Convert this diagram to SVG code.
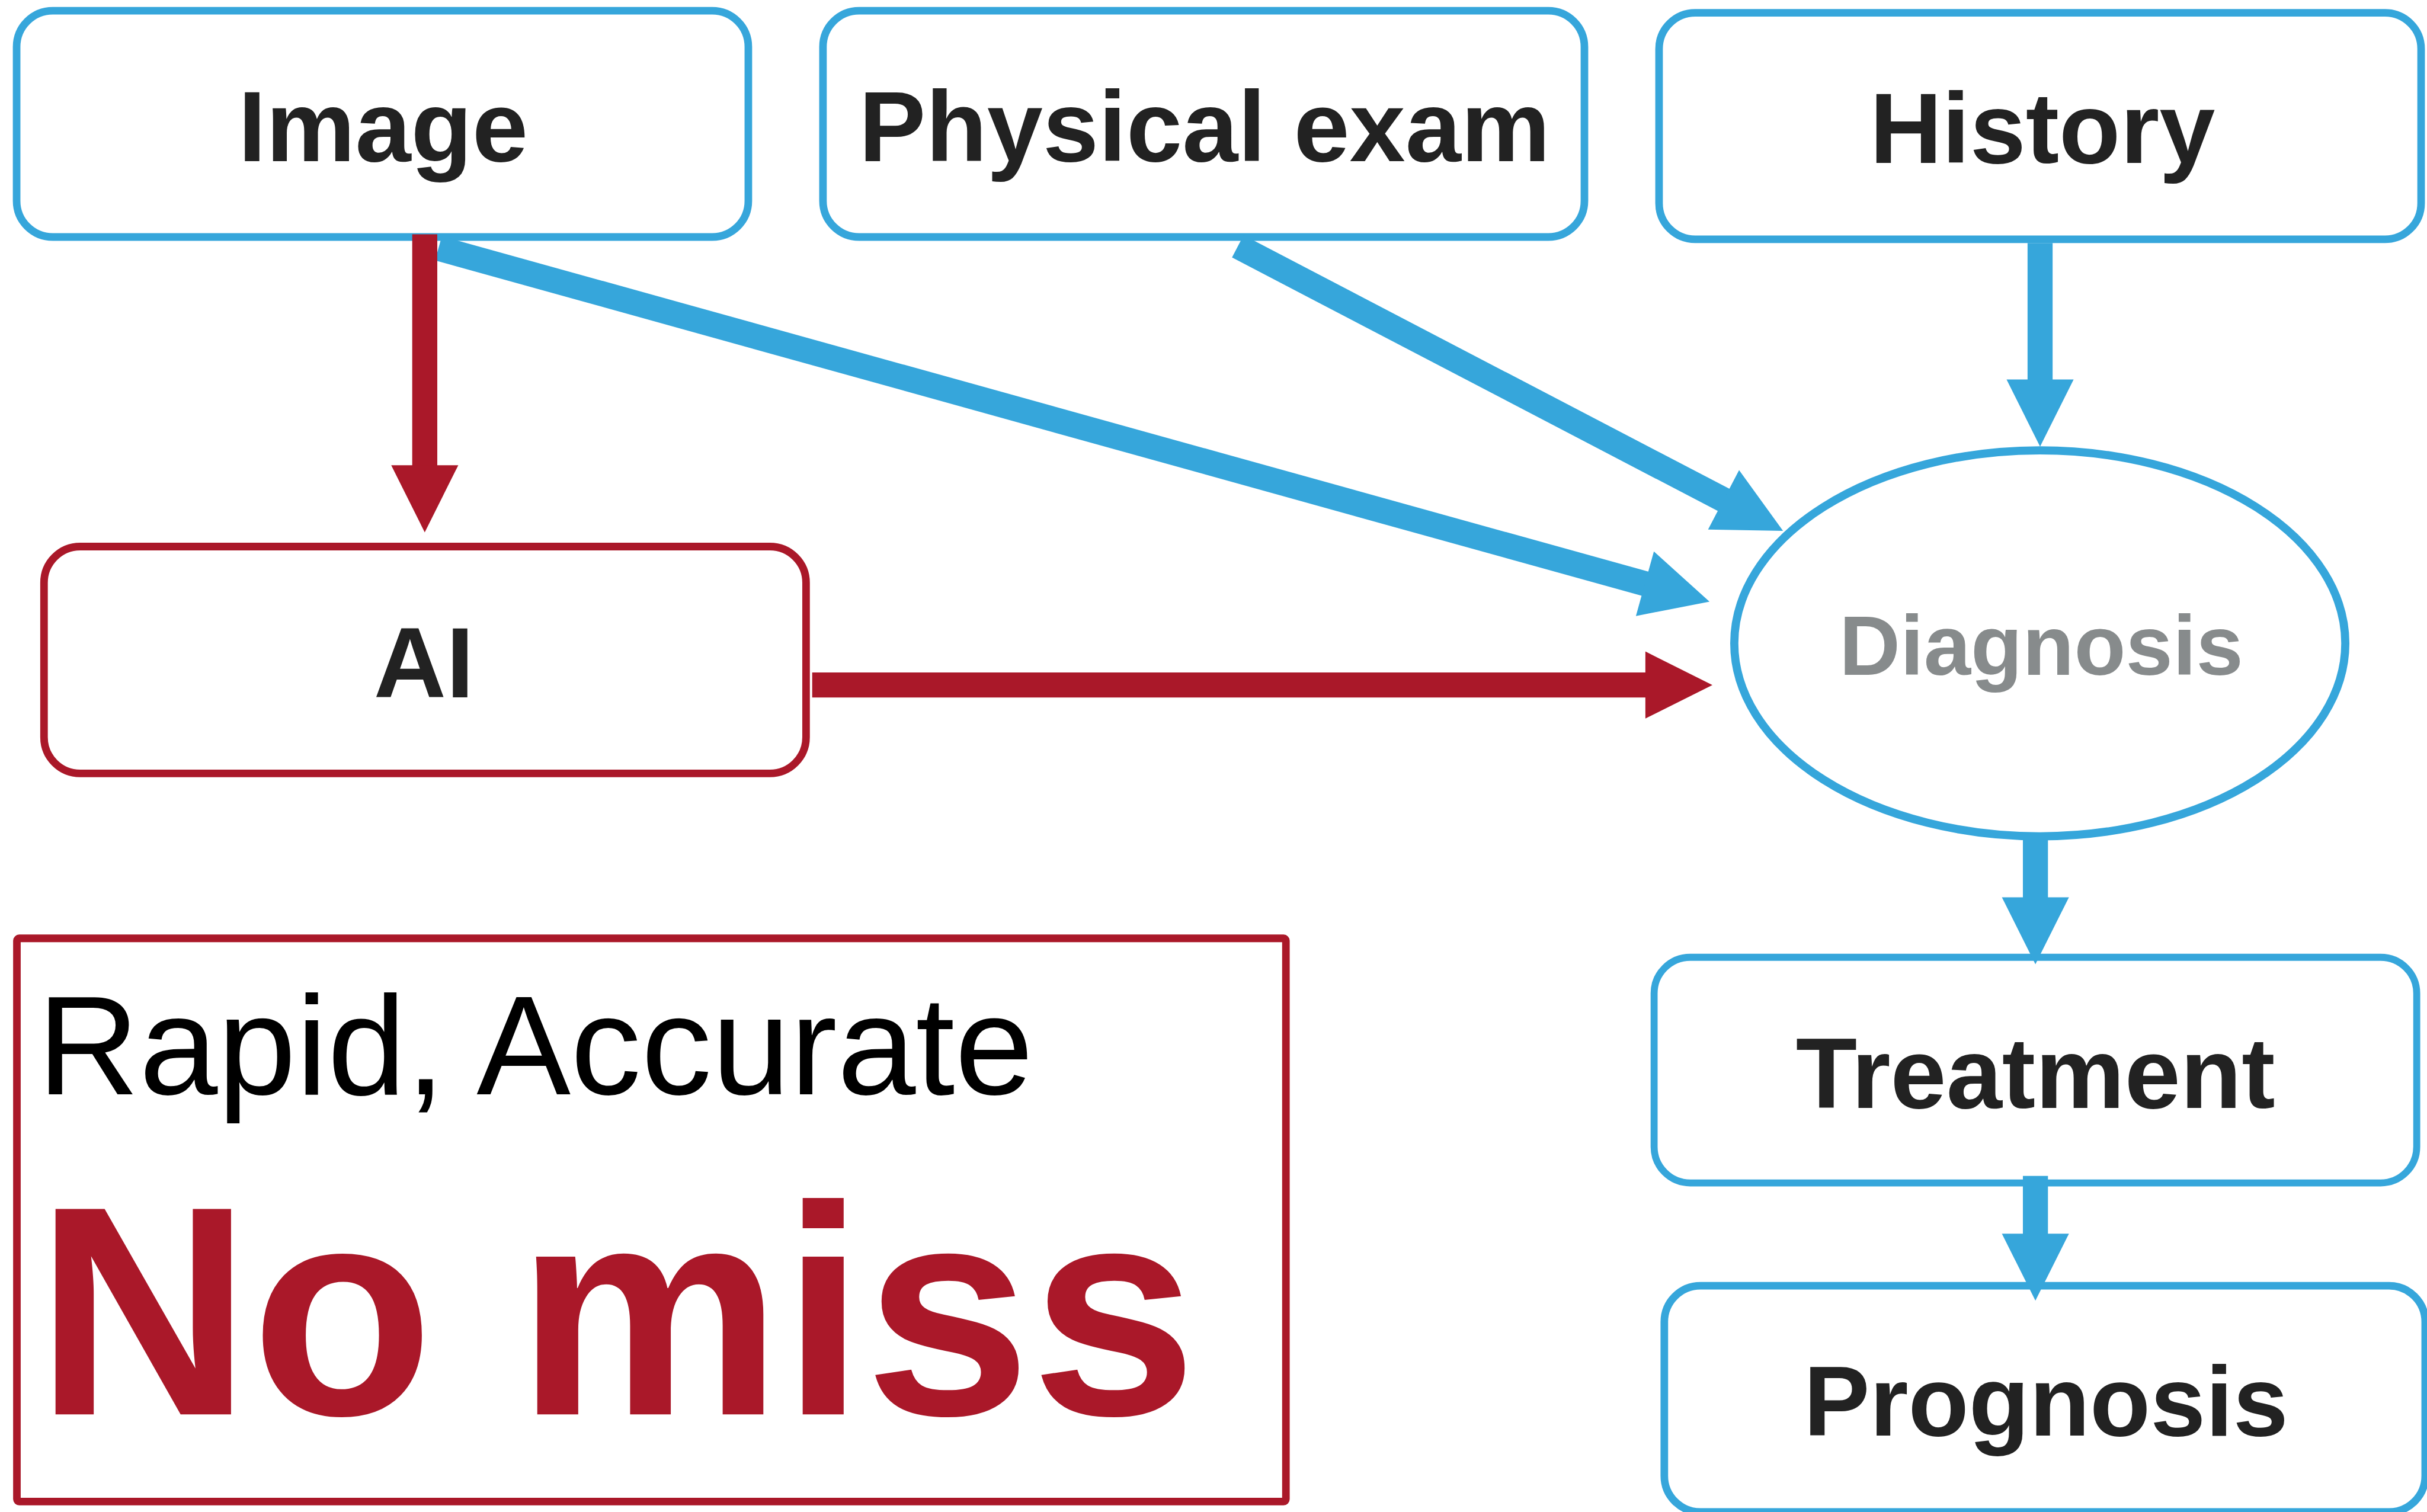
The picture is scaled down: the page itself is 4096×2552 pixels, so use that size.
<svg xmlns="http://www.w3.org/2000/svg" width="4096" height="2552" viewBox="0 0 4096 2552">
<style>
.box{fill:#fff;stroke:#36A6DB;stroke-width:13}
.rbox{fill:#fff;stroke:#AA1829;stroke-width:13}
.lbl{font-family:"Liberation Sans",Arial,Helvetica,sans-serif;font-weight:bold;font-size:172px;fill:#222;text-anchor:middle}
.bl{stroke:#36A6DB;stroke-width:43;fill:none}
.rd{stroke:#AA1829;stroke-width:43;fill:none}
</style>
<defs>
<marker id="hb" markerUnits="userSpaceOnUse" viewBox="0 -57.5 115 115" refX="3" refY="0" markerWidth="115" markerHeight="115" orient="auto" overflow="visible">
<path d="M0,-57.5 L115,0 L0,57.5 Z" fill="#36A6DB"/>
</marker>
<marker id="hr" markerUnits="userSpaceOnUse" viewBox="0 -57.5 115 115" refX="3" refY="0" markerWidth="115" markerHeight="115" orient="auto" overflow="visible">
<path d="M0,-57.5 L115,0 L0,57.5 Z" fill="#AA1829"/>
</marker>
</defs>
<rect width="4096" height="2552" fill="#fff"/>
<g transform="scale(0.984)">
<g id="image">
<rect class="box" x="28.5" y="18.5" width="1255" height="388" rx="62"/>
<text class="lbl" x="657" y="276">Image</text>
</g>
<g id="physical-exam">
<rect class="box" x="1411.5" y="18.5" width="1306" height="388" rx="62"/>
<text class="lbl" x="2066" y="276">Physical exam</text>
</g>
<g id="history">
<rect class="box" x="2845.5" y="22" width="1307" height="388.5" rx="62"/>
<text class="lbl" x="3503" y="279">History</text>
</g>
<g id="ai">
<rect class="rbox" x="75.5" y="937.5" width="1307" height="389" rx="62"/>
<text class="lbl" x="727" y="1196">AI</text>
</g>
<g id="diagnosis">
<ellipse cx="3498.5" cy="1103.5" rx="524" ry="331" fill="#fff" stroke="#36A6DB" stroke-width="14"/>
<text class="lbl" x="3501" y="1158" style="font-size:145px;fill:#878B8C">Diagnosis</text>
</g>
<g id="treatment">
<rect class="box" x="2837" y="1642" width="1308" height="387" rx="62" style="stroke-width:12"/>
<text class="lbl" x="3491" y="1900">Treatment</text>
</g>
<g id="prognosis">
<rect class="box" x="2854.5" y="2205.5" width="1305" height="388" rx="62"/>
<text class="lbl" x="3509" y="2462" style="font-size:170px">Prognosis</text>
</g>
<g id="no-miss">
<rect class="rbox" x="29" y="1609.5" width="2176.5" height="966" rx="4"/>
<text x="64" y="1877" style="font-family:'Liberation Sans',Arial,Helvetica,sans-serif;font-size:242px;fill:#000">Rapid, Accurate</text>
<text x="61" y="2426" style="font-family:'Liberation Sans',Arial,Helvetica,sans-serif;font-weight:bold;font-size:512px;fill:#AA1829">No miss</text>
</g>
<g id="connectors">
<line class="bl" x1="3499" y1="417" x2="3499" y2="654" marker-end="url(#hb)"/>
<line class="bl" x1="2123" y1="422.6" x2="2958.8" y2="858.8" marker-end="url(#hb)"/>
<line class="bl" x1="752" y1="425.9" x2="2824.1" y2="1002" marker-end="url(#hb)"/>
<line class="bl" x1="3491" y1="1441" x2="3491" y2="1542" marker-end="url(#hb)"/>
<line class="bl" x1="3491" y1="2017" x2="3491" y2="2119" marker-end="url(#hb)"/>
<line class="rd" x1="728.5" y1="402" x2="728.5" y2="801" marker-end="url(#hr)"/>
<line class="rd" x1="1393" y1="1175" x2="2825" y2="1175" marker-end="url(#hr)"/>
</g>
</g>
</svg>
